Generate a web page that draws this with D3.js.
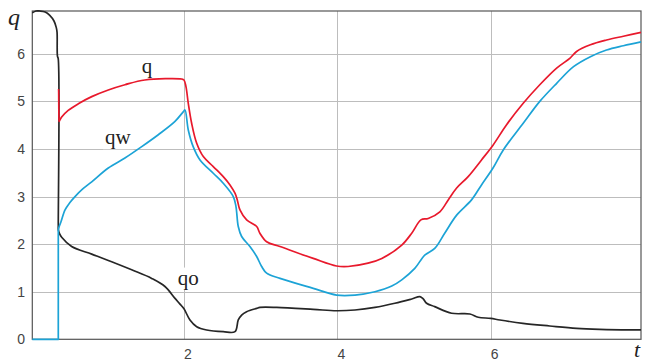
<!DOCTYPE html>
<html>
<head>
<meta charset="utf-8">
<script src="https://cdn.jsdelivr.net/npm/d3@7"></script>
<style>
  body { margin: 0; background: #fff; }
  svg { display: block; }
</style>
</head>
<body>
<svg id="chart"></svg>
<script>
// tick values
const xTicks = [2, 4, 6];
const yTicks = [0, 1, 2, 3, 4, 5, 6];

// q (total) - [t, q]
const qData = [
  [0.365, 5.26], [0.366, 5.2], [0.37, 4.62], [0.372, 4.58], [0.38, 4.6],
  [0.405, 4.67], [0.49, 4.81], [0.622, 4.95],
  [0.797, 5.10], [1.013, 5.24], [1.23, 5.35], [1.49, 5.45], [1.97, 5.47],
  [2.0, 5.45], [2.026, 5.31], [2.056, 4.96], [2.1, 4.54], [2.166, 4.12],
  [2.252, 3.84], [2.382, 3.63], [2.512, 3.42], [2.6, 3.245], [2.665, 3.07],
  [2.695, 2.93], [2.73, 2.72], [2.817, 2.51], [2.948, 2.37], [2.99, 2.23],
  [3.078, 2.05], [3.252, 1.95], [3.686, 1.70], [3.99, 1.54], [4.14, 1.53],
  [4.40, 1.60], [4.58, 1.70], [4.84, 1.98], [4.97, 2.23], [5.09, 2.51],
  [5.185, 2.54], [5.337, 2.68], [5.446, 2.93], [5.556, 3.18], [5.706, 3.42],
  [5.88, 3.77], [6.03, 4.08], [6.207, 4.51], [6.424, 4.96], [6.64, 5.35],
  [6.86, 5.70], [7.035, 5.91], [7.12, 6.05], [7.3, 6.19], [7.51, 6.29],
  [7.73, 6.37], [7.96, 6.45]
];

// qw (water)
const qwData = [
  [0.022, 0], [0.35, 0], [0.361, 0], [0.361, 0.05], [0.361, 2.25],
  [0.361, 2.30], [0.375, 2.38], [0.396, 2.47],
  [0.449, 2.72], [0.51, 2.87], [0.579, 3.0], [0.68, 3.16], [0.797, 3.31],
  [1.013, 3.60], [1.23, 3.81], [1.449, 4.05], [1.665, 4.30], [1.883, 4.58],
  [1.99, 4.78], [2.013, 4.82], [2.056, 4.40], [2.12, 4.05], [2.209, 3.77],
  [2.382, 3.49], [2.512, 3.28], [2.643, 3.0], [2.678, 2.79], [2.708, 2.37],
  [2.752, 2.16], [2.86, 1.95], [2.948, 1.74], [3.013, 1.53], [3.078, 1.39],
  [3.252, 1.28], [3.686, 1.07], [3.99, 0.93], [4.23, 0.93], [4.49, 1.0],
  [4.71, 1.12], [4.84, 1.25], [5.01, 1.49], [5.14, 1.77], [5.27, 1.91],
  [5.40, 2.23], [5.556, 2.61], [5.75, 2.93], [5.88, 3.245], [6.03, 3.60],
  [6.164, 3.98], [6.424, 4.54], [6.64, 5.0], [6.86, 5.38], [7.08, 5.73],
  [7.3, 5.94], [7.51, 6.08], [7.73, 6.17], [7.96, 6.25]
];

// qo (oil)
const qoData = [
  [0.022, 6.86], [0.07, 6.90], [0.12, 6.90], [0.19, 6.88], [0.25, 6.81],
  [0.305, 6.69], [0.335, 6.55], [0.345, 6.45], [0.35, 5.95], [0.36, 5.90],
  [0.361, 2.40], [0.362, 2.30], [0.38, 2.21], [0.405, 2.145], [0.535, 1.95],
  [0.797, 1.79], [1.057, 1.63],
  [1.318, 1.46], [1.579, 1.28], [1.752, 1.11], [1.883, 0.86], [1.948, 0.74],
  [2.0, 0.64], [2.078, 0.406], [2.166, 0.265], [2.296, 0.196], [2.513, 0.16],
  [2.665, 0.16], [2.708, 0.406], [2.752, 0.51], [2.817, 0.58], [2.948, 0.65],
  [2.99, 0.67], [3.209, 0.67], [3.686, 0.63], [3.99, 0.60], [4.23, 0.616],
  [4.49, 0.67], [4.75, 0.757], [4.97, 0.848], [5.077, 0.896], [5.12, 0.848],
  [5.164, 0.757], [5.27, 0.686], [5.49, 0.547], [5.729, 0.532], [5.837, 0.463],
  [6.0, 0.44], [6.12, 0.406], [6.42, 0.336], [6.77, 0.28], [7.12, 0.23],
  [7.42, 0.21], [7.96, 0.196]
];

const series = [
  { name: 'qo', data: qoData, color: '#262626' },
  { name: 'qw', data: qwData, color: '#1ca3d6' },
  { name: 'q', data: qData, color: '#e8192c' }
];

// curve labels: [text, t, q]
const curveLabels = [
  ['q', 1.45, 5.6],
  ['qw', 0.97, 4.1],
  ['qo', 1.92, 1.15]
];

const width = 645, height = 361;
const plot = { left: 32.3, right: 641, top: 11, bottom: 339.3 };

const svg = d3.select('#chart')
  .attr('width', width)
  .attr('height', height);

const x = d3.scaleLinear().domain([0.022, 7.96]).range([plot.left, plot.right]);
const y = d3.scaleLinear().domain([0, 6.9]).range([plot.bottom, plot.top]);

// grid
svg.append('g')
  .selectAll('line')
  .data(yTicks.filter(d => d > 0))
  .enter().append('line')
  .attr('x1', plot.left).attr('x2', plot.right)
  .attr('y1', d => Math.round(y(d)) + 0.5).attr('y2', d => Math.round(y(d)) + 0.5)
  .attr('stroke', '#bdbdbd').attr('stroke-width', 1);

svg.append('g')
  .selectAll('line')
  .data(xTicks)
  .enter().append('line')
  .attr('x1', d => Math.round(x(d)) + 0.5).attr('x2', d => Math.round(x(d)) + 0.5)
  .attr('y1', plot.top).attr('y2', plot.bottom)
  .attr('stroke', '#bdbdbd').attr('stroke-width', 1);

// frame
svg.append('rect')
  .attr('x', plot.left).attr('y', plot.top)
  .attr('width', plot.right - plot.left).attr('height', plot.bottom - plot.top)
  .attr('fill', 'none').attr('stroke', '#555').attr('stroke-width', 1.2);

// tick labels
const tickFont = '"Liberation Sans Narrow", "Arial Narrow", "Liberation Sans", sans-serif';
svg.append('g')
  .selectAll('text')
  .data(yTicks)
  .enter().append('text')
  .attr('x', 25).attr('y', d => y(d) + 5)
  .attr('text-anchor', 'end')
  .attr('font-family', tickFont)
  .attr('font-size', 14).attr('fill', '#444')
  .text(d => d);

svg.append('g')
  .selectAll('text')
  .data(xTicks)
  .enter().append('text')
  .attr('x', d => x(d) + 4).attr('y', 359)
  .attr('text-anchor', 'middle')
  .attr('font-family', tickFont)
  .attr('font-size', 14).attr('fill', '#444')
  .text(d => d);

// series
const line = d3.line()
  .x(d => x(d[0]))
  .y(d => y(d[1]))
  .curve(d3.curveCatmullRom.alpha(0.5));

svg.append('g')
  .selectAll('path')
  .data(series)
  .enter().append('path')
  .attr('d', d => line(d.data))
  .attr('fill', 'none')
  .attr('stroke', d => d.color)
  .attr('stroke-width', 1.7)
  .attr('stroke-linejoin', 'round');

// curve labels with white backing
const labelG = svg.append('g');
curveLabels.forEach(([txt, t, v]) => {
  const g = labelG.append('g');
  const text = g.append('text')
    .attr('x', x(t)).attr('y', y(v))
    .attr('font-family', '"Liberation Serif", "Times New Roman", serif')
    .attr('font-size', 21).attr('fill', '#222')
    .text(txt);
  const bb = text.node().getBBox();
  g.insert('rect', 'text')
    .attr('x', bb.x - 2).attr('y', bb.y + 2)
    .attr('width', bb.width + 4).attr('height', bb.height - 2)
    .attr('fill', '#fff');
});

// axis titles
const titleFont = '"Liberation Serif", "Times New Roman", serif';
svg.append('text')
  .attr('x', 8).attr('y', 25)
  .attr('font-family', titleFont)
  .attr('font-style', 'italic').attr('font-size', 24).attr('fill', '#222')
  .text('q');

svg.append('text')
  .attr('x', 634).attr('y', 357)
  .attr('font-family', titleFont)
  .attr('font-style', 'italic').attr('font-size', 22).attr('fill', '#222')
  .text('t');
</script>
</body>
</html>
